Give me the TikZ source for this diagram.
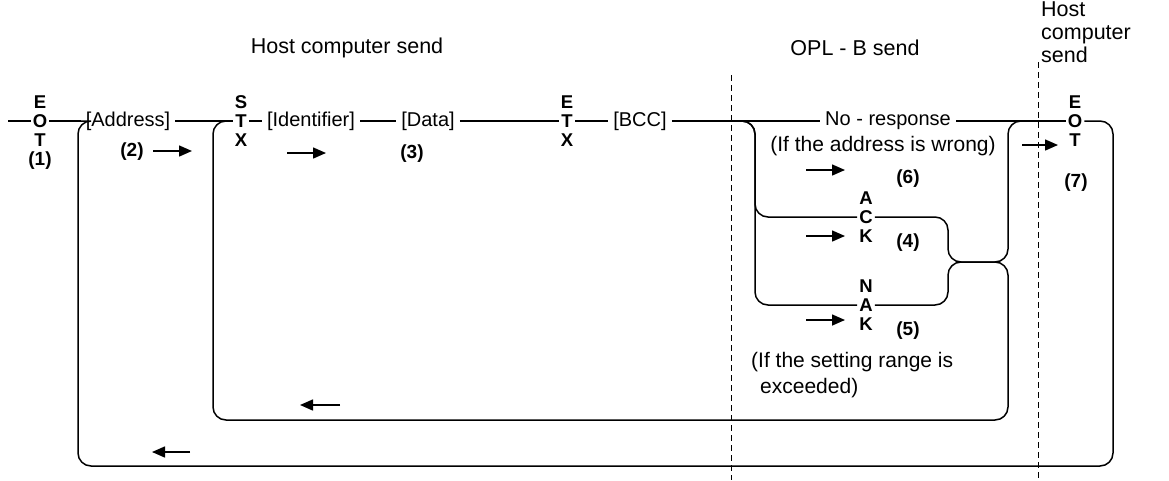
\documentclass[tikz,border=0pt]{standalone}
\usepackage{fontspec}
\setmainfont{Liberation Sans}
\usetikzlibrary{arrows.meta,positioning}

\tikzset{
  lbl/.style={font=\fontsize{20}{22}\selectfont, inner sep=5pt},
  ctl/.style={font=\fontsize{18.5}{19}\selectfont\bfseries, align=center, inner sep=2pt},
  num/.style={font=\fontsize{19}{22}\selectfont\bfseries},
  note/.style={font=\fontsize{21}{26}\selectfont, align=left},
  hdr/.style={font=\fontsize{21.5}{23}\selectfont},
  wire/.style={line width=1.5pt, rounded corners=13pt},
  dirarrow/.style={line width=1.5pt, -{Triangle[length=13pt,width=11pt]}},
  zone/.style={line width=0.9pt, dash pattern=on 6pt off 4pt},
}

\begin{document}
\begin{tikzpicture}[x=1pt, y=-1pt]
  \useasboundingbox (0,0) rectangle (1169,480);

  % Headings
  \node[hdr] (hdrHost) at (347,48) {Host computer send};
  \node[hdr] (hdrOpl) at (855,48) {OPL - B send};
  \node[hdr, align=left, anchor=north west, inner sep=0pt] (hdrBack) at (1041,2) {Host\\computer\\send};

  % Zone borders
  \draw[zone] (731,75) -- (731,480);
  \draw[zone] (1038,62) -- (1038,480);

  % Message blocks
  \coordinate (lineIn) at (8,121);
  \node[ctl] (eotA) at (40,121) {E\\O\\T};
  \node[lbl] (addr) at (128,121) {[Address]};
  \node[ctl] (stx) at (241,121) {S\\T\\X};
  \node[lbl] (ident) at (311,121) {[Identifier]};
  \node[lbl] (data) at (428,121) {[Data]};
  \node[ctl] (etx) at (567,121) {E\\T\\X};
  \node[lbl] (bcc) at (640,121) {[BCC]};
  \node[lbl] (noresp) at (888,121) {No - response};
  \node[ctl] (ack) at (866,217) {A\\C\\K};
  \node[ctl] (nak) at (866,305) {N\\A\\K};
  \node[ctl] (eotB) at (1075,121) {E\\O\\T};

  % Step numbers and notes
  \node[num] (nOne) at (40,161) {(1)};
  \node[num] (nTwo) at (132,152) {(2)};
  \node[num] (nThree) at (412,154) {(3)};
  \node[num] (nFour) at (908,243) {(4)};
  \node[num] (nFive) at (908,331) {(5)};
  \node[num] (nSix) at (908,179) {(6)};
  \node[num] (nSeven) at (1076,183) {(7)};
  \node[note] (noteAddr) at (883,146) {(If the address is wrong)};
  \node[note, anchor=north west, inner sep=0pt] (noteRange) at (751,352) {(If the setting range is\\\hspace*{9pt}exceeded)};

  % Turning points
  \coordinate (split) at (733,121);
  \coordinate (splitX) at (755,0);
  \coordinate (mergeX) at (948,0);
  \coordinate (joinX) at (1008,0);
  \coordinate (midY) at (0,262);
  \coordinate (innerB) at (0,420);
  \coordinate (innerX) at (213,0);
  \coordinate (outerR) at (1113,0);
  \coordinate (outerB) at (0,466);
  \coordinate (outerX) at (78,0);

  % Main line
  \draw[wire] (lineIn) -- (eotA) -- (addr) -- (stx) -- (ident) -- (data) -- (etx) -- (bcc) -- (noresp) -- (eotB);

  % Replies
  \draw[wire] (split) -| (splitX |- ack) -- (ack);
  \draw[wire] (split) -| (splitX |- nak) -- (nak);
  \draw[wire] (ack) -| (mergeX |- midY) -| (joinX |- eotB) -- (eotB);
  \draw[wire] (nak) -| (mergeX |- midY) -| (joinX |- innerB) -| (innerX |- stx) -- (stx);

  % Return to address
  \draw[wire] (eotB) -| (outerR |- outerB) -| (outerX |- addr) -- (addr);

  % Direction marks
  \foreach \n/\x/\y/\d in {two/153/151/39, stxA/287/153/39, six/806/170/39,
      four/806/236/39, five/806/320/39, seven/1022/145/36,
      innerBack/340/405/-40, outerBack/190/452/-38} {
    \coordinate (\n S) at (\x,\y);
    \coordinate (\n E) at (\x+\d,\y);
    \draw[dirarrow] (\n S) -- (\n E);
  }
\end{tikzpicture}
\end{document}
